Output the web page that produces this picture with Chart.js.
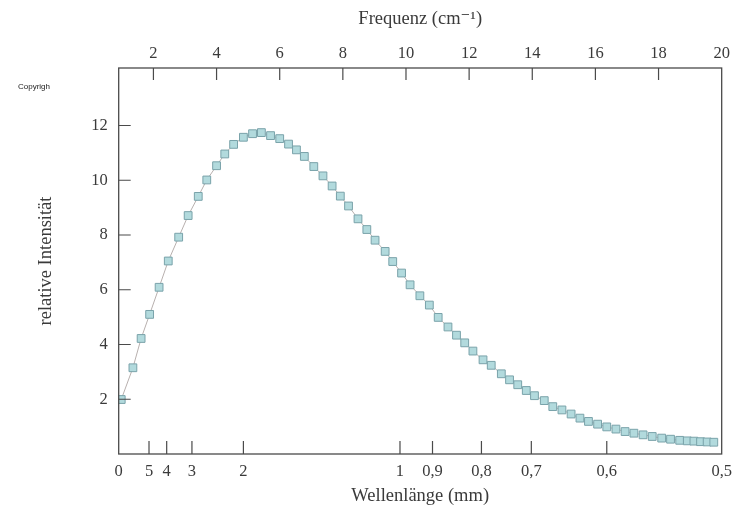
<!DOCTYPE html>
<html>
<head>
<meta charset="utf-8">
<script src="https://cdn.jsdelivr.net/npm/chart.js@4.4.1/dist/chart.umd.min.js"></script>
<style>
  html, body { margin: 0; padding: 0; background: #ffffff; }
  #wrap { position: relative; width: 740px; height: 507px; }
  #copy { position: absolute; left: 18px; top: 82px; font: 8px "Liberation Sans", Arial, sans-serif; color: #222; }
</style>
</head>
<body>
<div id="wrap">
  <canvas id="chart" width="740" height="507"></canvas>
  <div id="copy">Copyrigh</div>
</div>
<script>
(function () {

// ---------------------------------------------------------------- data

// frequency of each measured point (cm^-1)
var frequency = [
    0.98, 1.35, 1.61, 1.88, 2.18, 2.47, 2.80, 3.10, 3.42, 3.69,
    4.00, 4.26, 4.54, 4.85, 5.14, 5.42, 5.71, 6.00, 6.28, 6.53,
    6.78, 7.08, 7.37, 7.66, 7.92, 8.18, 8.48, 8.76, 9.02, 9.34,
    9.58, 9.86, 10.13, 10.44, 10.74, 11.02, 11.33, 11.60, 11.86, 12.12,
    12.44, 12.70, 13.02, 13.28, 13.54, 13.81, 14.07, 14.38, 14.65, 14.94,
    15.23, 15.51, 15.78, 16.07, 16.36, 16.65, 16.94, 17.22, 17.51, 17.80,
    18.10, 18.38, 18.67, 18.91, 19.12, 19.33, 19.54, 19.75
];

// relative intensity at each point
var intensity = [
    1.99, 3.15, 4.22, 5.10, 6.09, 7.05, 7.92, 8.71, 9.41, 10.01,
    10.53, 10.96, 11.31, 11.57, 11.70, 11.74, 11.63, 11.52, 11.32, 11.11,
    10.87, 10.50, 10.16, 9.79, 9.42, 9.06, 8.59, 8.20, 7.81, 7.40,
    7.03, 6.61, 6.18, 5.78, 5.44, 4.99, 4.64, 4.34, 4.06, 3.76,
    3.44, 3.24, 2.93, 2.71, 2.53, 2.32, 2.13, 1.95, 1.73, 1.61,
    1.46, 1.31, 1.19, 1.09, 0.99, 0.91, 0.82, 0.76, 0.70, 0.64,
    0.58, 0.54, 0.50, 0.48, 0.47, 0.45, 0.44, 0.43
];

var freqTicks = [2, 4, 6, 8, 10, 12, 14, 16, 18, 20];
var yTicks = [2, 4, 6, 8, 10, 12];

// wavelength labels of the bottom axis and the frequency where the figure puts them
var wavelengthLabels = ['0', '5', '4', '3', '2', '1', '0,9', '0,8', '0,7', '0,6', '0,5'];
var wavelengthAt     = [0.9, 1.86, 2.42, 3.22, 4.85, 9.81, 10.84, 12.39, 13.97, 16.36, 20];

var xMin = 0.9, xMax = 20;
var yMin = 0, yMax = 14.1;

// ---------------------------------------------------------------- chart

var serif = '"Liberation Serif", "DejaVu Serif", serif';
var textColor = '#3a3a3a';
var axisColor = '#4a4a4a';

var points = frequency.map(function (f, i) { return { x: f, y: intensity[i] }; });

// frame round the plot and inward tick marks
var framePlugin = {
    id: 'frame',
    afterDraw: function (chart) {
        var ctx = chart.ctx, a = chart.chartArea;
        ctx.save();
        ctx.strokeStyle = axisColor;
        ctx.lineWidth = 1.3;
        ctx.strokeRect(a.left, a.top, a.right - a.left, a.bottom - a.top);

        ctx.lineWidth = 1.2;
        ctx.beginPath();
        chart.scales.x.ticks.forEach(function (t) {
            var px = chart.scales.x.getPixelForValue(t.value);
            if (px >= a.right - 1) return;
            ctx.moveTo(px, a.top); ctx.lineTo(px, a.top + 12);
        });
        chart.scales.x2.ticks.forEach(function (t) {
            var px = chart.scales.x2.getPixelForValue(t.value);
            if (px <= a.left + 1 || px >= a.right - 1) return;
            ctx.moveTo(px, a.bottom); ctx.lineTo(px, a.bottom - 13);
        });
        chart.scales.y.ticks.forEach(function (t) {
            var py = chart.scales.y.getPixelForValue(t.value);
            ctx.moveTo(a.left, py); ctx.lineTo(a.left + 12, py);
        });
        ctx.stroke();
        ctx.restore();
    }
};

new Chart(document.getElementById('chart').getContext('2d'), {
    type: 'line',
    data: {
        datasets: [{
            data: points,
            borderColor: '#b8b0ae',
            borderWidth: 1,
            backgroundColor: '#b2dadd',
            fill: false,
            tension: 0,
            pointStyle: 'rect',
            pointRadius: 5.5,
            pointBackgroundColor: '#b2dadd',
            pointBorderColor: '#7aa3aa',
            pointBorderWidth: 1
        }]
    },
    options: {
        responsive: false,
        animation: false,
        layout: { padding: { left: 35, right: 13, top: 8, bottom: 0 } },
        plugins: {
            legend: { display: false },
            tooltip: { enabled: false }
        },
        scales: {
            x: {
                type: 'linear',
                position: 'top',
                min: xMin, max: xMax,
                grid: { display: false, drawTicks: false },
                border: { display: false },
                afterBuildTicks: function (s) { s.ticks = freqTicks.map(function (v) { return { value: v }; }); },
                ticks: { color: textColor, font: { family: serif, size: 16.5 }, padding: 4, maxRotation: 0, autoSkip: false },
                title: { display: true, text: 'Frequenz (cm\u207B\u00B9)', color: textColor,
                         font: { family: serif, size: 18.5 }, padding: { top: 0, bottom: 10 } }
            },
            x2: {
                type: 'linear',
                position: 'bottom',
                min: xMin, max: xMax,
                grid: { display: false, drawTicks: false },
                border: { display: false },
                afterBuildTicks: function (s) { s.ticks = wavelengthAt.map(function (v) { return { value: v }; }); },
                ticks: {
                    color: textColor, font: { family: serif, size: 16.5 }, padding: 8, maxRotation: 0, autoSkip: false,
                    callback: function (v, i) { return wavelengthLabels[i]; }
                },
                title: { display: true, text: 'Wellenlänge (mm)', color: textColor,
                         font: { family: serif, size: 18.5 }, padding: { top: -5, bottom: 0 } }
            },
            y: {
                type: 'linear',
                min: yMin, max: yMax,
                grid: { display: false, drawTicks: false },
                border: { display: false },
                afterBuildTicks: function (s) { s.ticks = yTicks.map(function (v) { return { value: v }; }); },
                ticks: { color: textColor, font: { family: serif, size: 16.5 }, padding: 11 },
                title: { display: true, text: 'relative Intensität', color: textColor,
                         font: { family: serif, size: 18.5 }, padding: { top: 0, bottom: 23 } }
            }
        }
    },
    plugins: [framePlugin]
});

})();
</script>
</body>
</html>
